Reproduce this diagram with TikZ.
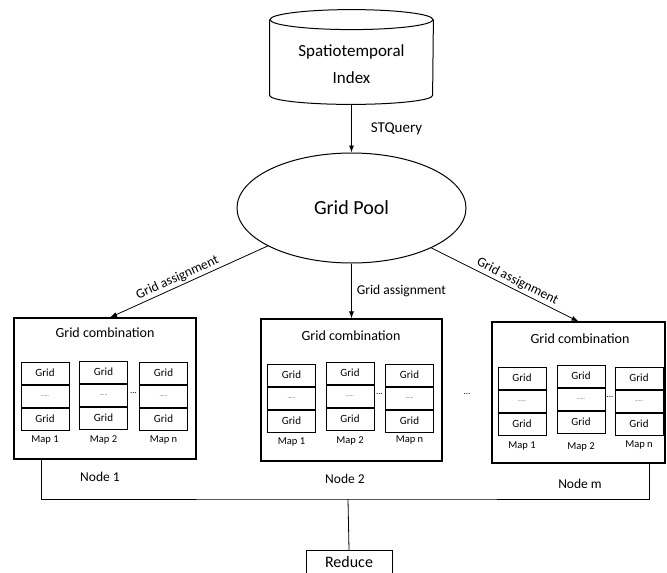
\documentclass[tikz,border=0pt]{standalone}
\usepackage{fontspec}
\setmainfont{Carlito}
\usetikzlibrary{shapes.geometric,calc,arrows.meta}

% one column of grid cells with its map label underneath
\newcommand\mapcolumn[5]{%
  \node[cell] (#1a) at (#2,#3+11) {Grid};
  \node[cell,anchor=north,font=\fontsize{5}{5}\selectfont] (#1b) at (#1a.south) {......};
  \node[cell,anchor=north] (#1c) at (#1b.south) {Grid};
  \node[maplbl] (#1m) at (#2,#5) {#4};
}

\begin{document}
\begin{tikzpicture}[x=1pt,y=-1pt,
  line width=0.8pt,
  conn/.style={draw,line width=0.8pt,-{Latex[length=7pt,width=5pt]}},
  combo/.style={draw,line width=1.1pt,inner sep=0},
  cell/.style={draw,line width=1pt,minimum width=48pt,minimum height=22pt,inner sep=0,
    font=\fontsize{11}{11}\selectfont},
  maplbl/.style={inner sep=0,font=\fontsize{10.5}{10.5}\selectfont},
  headlbl/.style={inner sep=0,font=\fontsize{14}{14}\selectfont},
  nodelbl/.style={inner sep=0,font=\fontsize{13.5}{13.5}\selectfont},
  edgelbl/.style={inner sep=2pt,font=\fontsize{13.5}{13.5}\selectfont},
  dots/.style={inner sep=0,font=\fontsize{9}{9}\selectfont}]
\useasboundingbox (0,0) rectangle (667,573);

% spatiotemporal index (cylinder)
\node[minimum width=163pt,minimum height=94pt,inner sep=0] (idx) at (351.5,57) {};
\node[inner sep=0,align=center,font=\fontsize{17}{27}\selectfont] (idxtext) at (351.5,64)
  {Spatiotemporal\\Index};
\draw[line width=1pt] ($(idx.north west)+(0,10)$) -- ($(idx.south west)+(0,-9)$)
  arc[start angle=180,end angle=0,x radius=81.5,y radius=9]
  -- ($(idx.north east)+(0,10)$);
\draw[line width=1pt] ($(idx.north)+(0,10)$) ellipse[x radius=81.5,y radius=10];

% grid pool
\node[ellipse,draw,line width=1pt,minimum width=229pt,minimum height=110pt,inner sep=0,
  font=\fontsize{20}{20}\selectfont] (pool) at (351.5,208) {Grid Pool};

% computing nodes
\node[combo,minimum width=182pt,minimum height=141pt] (box1) at (105,388.5) {};
\node[combo,minimum width=181pt,minimum height=142pt] (box2) at (351.5,390) {};
\node[combo,minimum width=173pt,minimum height=141pt] (box3) at (578.5,392.5) {};

\node[headlbl] (h1) at (105,333) {Grid combination};
\node[headlbl] (h2) at (351,336) {Grid combination};
\node[headlbl] (h3) at (580,339) {Grid combination};

\mapcolumn{p1}{45}{362}{Map 1}{440}
\mapcolumn{p2}{103.5}{361}{Map 2}{440}
\mapcolumn{p3}{163.5}{362}{Map n}{440}
\node[dots] (d1) at (133.5,393) {...};

\mapcolumn{q1}{291.5}{364}{Map 1}{442}
\mapcolumn{q2}{350}{362}{Map 2}{441}
\mapcolumn{q3}{409.5}{364}{Map n}{440}
\node[dots] (d2) at (379.5,394) {...};

\mapcolumn{r1}{522}{367}{Map 1}{446}
\mapcolumn{r2}{581}{365}{Map 2}{447}
\mapcolumn{r3}{639}{367}{Map n}{445}
\node[dots] (d3) at (610,397) {...};

\node[dots] (gap) at (467,394) {...};

\node[nodelbl] (n1) at (100,477) {Node 1};
\node[nodelbl] (n2) at (345,479) {Node 2};
\node[nodelbl] (nm) at (580,484) {Node m};

% reduce (its lower edge runs past the page)
\node[draw,line width=1pt,anchor=north,minimum width=86pt,inner xsep=0,inner ysep=5pt,
  text height=11.5pt,text depth=14pt,
  font=\fontsize{16}{16}\selectfont] (reduce) at (349,550) {Reduce};

% connectors
\draw[conn] (idx.south) -- (pool)
  node[midway,right=17pt,edgelbl,font=\fontsize{15}{15}\selectfont] {STQuery};
\draw[conn] (pool) -- ($(box1.north)+(5,0)$)
  node[pos=0.55,sloped,above,edgelbl] {Grid assignment};
\draw[conn] (pool) -- (box2.north)
  node[midway,right=3pt,edgelbl] {Grid assignment};
\draw[conn] (pool) -- (box3.north)
  node[pos=0.56,sloped,above,edgelbl] {Grid assignment};

% collecting bus into reduce
\coordinate (bus) at (348,499);
\draw ($(box1.south west)+(28,0)$) |- (bus) -| ($(box3.south east)+(-16,0)$);
\draw (bus) -- (reduce.north);
\end{tikzpicture}
\end{document}
